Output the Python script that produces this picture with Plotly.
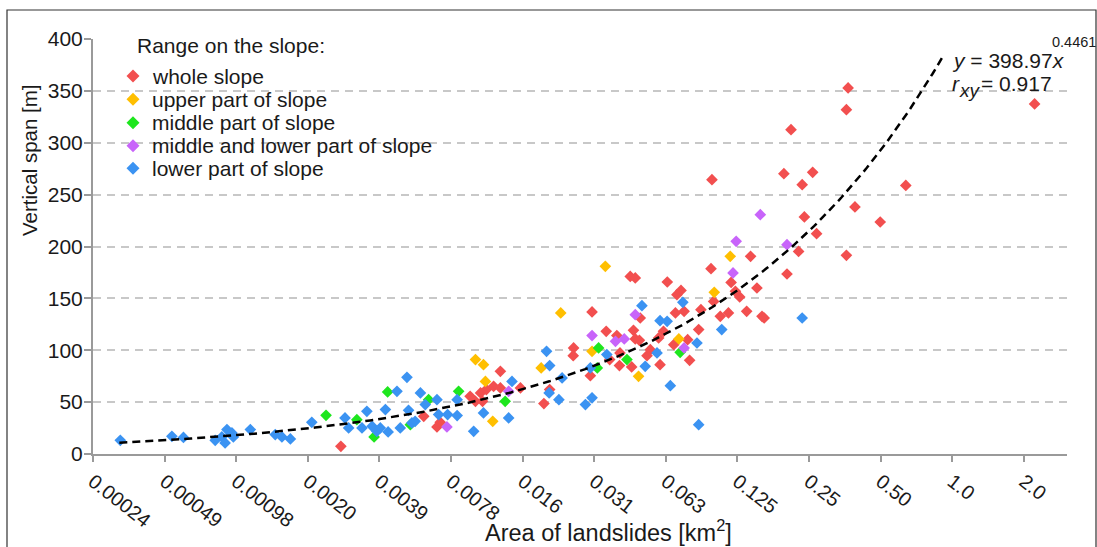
import numpy as np
import plotly.graph_objects as go

# ---------------- data ----------------
whole_area = [0.00269, 0.0060, 0.00682, 0.00704, 0.0094, 0.0099, 0.0104, 0.0110, 0.0106, 0.0118,
              0.0126, 0.0126, 0.0153, 0.0192, 0.0203, 0.0256, 0.0255, 0.0306, 0.0301, 0.0351,
              0.0363, 0.0389, 0.0399, 0.0401, 0.0443, 0.0465, 0.0457, 0.0465, 0.0484, 0.0488,
              0.0449, 0.0521, 0.0538, 0.0583, 0.0591, 0.0611, 0.0634, 0.0696, 0.0724, 0.0686,
              0.0746, 0.0675, 0.0772, 0.0787, 0.0859, 0.0878, 0.0968, 0.0977, 0.0993, 0.1059,
              0.1146, 0.1176, 0.1226, 0.1278, 0.1367, 0.142, 0.151, 0.1586, 0.162, 0.196,
              0.202, 0.21, 0.226, 0.234, 0.239, 0.259, 0.269, 0.359, 0.365, 0.359,
              0.39, 0.498, 0.638, 2.22]
whole_span = [7.4, 36.3, 26.1, 30.5, 55.6, 50.8, 58.9, 62.1, 50.8, 65.2,
              63.7, 79.7, 63.7, 48.6, 62.1, 102.2, 94.8, 136.9, 75.5, 118.2,
              91, 114.1, 85.2, 97.4, 171.2, 169.7, 119.2, 110.9, 109.6, 131.1,
              83.9, 94.8, 100.6, 111.9, 86.1, 118.2, 165.8, 153.6, 157.7, 136,
              137.5, 105.4, 110.2, 90.3, 119.9, 139.1, 178.6, 264.4, 147.1, 132.7,
              136, 165.4, 156.8, 151.4, 137.5, 190.5, 160, 132.7, 131.1, 270.2,
              173.5, 312.6, 195.3, 259.6, 228.5, 271.5, 212.4, 331.9, 352.8, 191.5,
              238.1, 223.6, 258.9, 337.4]

upper_area = [0.0099, 0.0107, 0.0109, 0.0117, 0.0187, 0.0226, 0.0306, 0.0348, 0.048, 0.0709, 0.0999, 0.1166]
upper_span = [91, 86.1, 70, 31.5, 83, 136, 99, 180.9, 74.9, 110.9, 155.8, 190.5]

middle_area = [0.00233, 0.00314, 0.00371, 0.00423, 0.00527, 0.00629, 0.00841, 0.0132, 0.0326, 0.0322, 0.0429, 0.0718]
middle_span = [37.3, 33.1, 16.5, 59.8, 28.3, 52.4, 60.4, 50.8, 102.2, 83, 91, 98]

midlow_area = [0.00751, 0.01365, 0.0306, 0.0384, 0.0418, 0.0465, 0.0746, 0.1198, 0.1235, 0.156, 0.202]
midlow_span = [26.1, 60.4, 114.1, 108.6, 110.9, 134.3, 102.2, 174.5, 205, 230.7, 201.8]

lower_area = [0.000318, 0.000524, 0.000586, 0.000797, 0.00085, 0.000893, 0.000877, 0.000937, 0.00095, 0.00112,
              0.001425, 0.00152, 0.00165, 0.00203, 0.0028, 0.0029, 0.0033, 0.00346, 0.00364, 0.00381,
              0.00394, 0.00414, 0.00425, 0.00463, 0.00478, 0.0051, 0.00518, 0.00535, 0.00552, 0.00581,
              0.00609, 0.00682, 0.00693, 0.00756, 0.00829, 0.00829, 0.00973, 0.0107, 0.01365, 0.0141,
              0.0197, 0.0203, 0.0202, 0.0229, 0.0222, 0.0287, 0.0306, 0.0301, 0.0353, 0.0496,
              0.0512, 0.0574, 0.0591, 0.0633, 0.0653, 0.0737, 0.0845, 0.0859, 0.1074, 0.234]
lower_span = [13.2, 17, 16, 13.2, 16.5, 23.5, 10.7, 20.3, 16.5, 23.5,
              18.7, 16.5, 14.5, 30.5, 34.8, 25.1, 25.1, 41.1, 26.7, 21.9,
              25.1, 42.8, 21.3, 60.4, 25.1, 73.9, 42.1, 30, 31.5, 58.9,
              47.6, 52.4, 38, 38, 37, 52.4, 21.9, 39.6, 34.8, 70,
              99, 85.2, 58.9, 73.3, 52.4, 47.6, 54.1, 83, 95.8, 143,
              84.5, 97.4, 128.5, 127.9, 65.9, 146.2, 107, 28.3, 119.9, 131.1]

series_names = ["whole slope", "upper part of slope", "middle part of slope",
                "middle and lower part of slope", "lower part of slope"]
series_colors = ["#F24F4F", "#FFBF00", "#1EE61E", "#C864FA", "#3B93F2"]

x_tick_vals = [2.0 ** k for k in range(-12, 2)]
x_tick_text = ["0.00024", "0.00049", "0.00098", "0.0020", "0.0039", "0.0078", "0.016",
               "0.031", "0.063", "0.125", "0.25", "0.50", "1.0", "2.0"]
y_tick_vals = [0, 50, 100, 150, 200, 250, 300, 350, 400]

fit_a = 398.97
fit_b = 0.4461
fit_r = 0.917
fit_x_min = 0.000315
fit_x_max = 0.92

# ---------------- figure ----------------
FONT = "Liberation Sans, Arial, sans-serif"
TXT = "#1a1a1a"
W, H = 1097, 547
ML, MR, MT, MB = 93, 30, 39, 93
PW, PH = W - ML - MR, H - MT - MB


def px(xp):
    return (xp - ML) / PW


def py(yp):
    return (H - MB - yp) / PH


def note(text, x, y, size=21, xanchor="left", **kw):
    return dict(text=text, x=px(x), y=py(y), xref="paper", yref="paper", showarrow=False,
                xanchor=xanchor, yanchor="middle", font=dict(size=size, color=TXT), **kw)


fig = go.Figure()
all_series = [(whole_area, whole_span), (upper_area, upper_span), (middle_area, middle_span),
              (midlow_area, midlow_span), (lower_area, lower_span)]
for (xs, ys), name, col in zip(all_series, series_names, series_colors):
    fig.add_trace(go.Scatter(x=xs, y=ys, mode="markers", name=name, showlegend=False,
                             marker=dict(symbol="diamond", size=9, color=col, line=dict(width=0))))

fx = np.geomspace(fit_x_min, fit_x_max, 300)
fig.add_trace(go.Scatter(x=fx, y=fit_a * fx ** fit_b, mode="lines", showlegend=False,
                         line=dict(color="black", width=2.5, dash="8px,5px")))

annotations = [
    # axis titles
    note("Vertical span [m]", 29, 160, size=20.5, xanchor="center", textangle=-90),
    note("Area of landslides [km<sup>2</sup>]", 608, 531, size=23.5, xanchor="center"),
    # equation
    note(f"<i>y</i> = {fit_a:.2f}<i>x</i>", 950, 60),
    note(f"{fit_b:.4f}", 1050, 42, size=14.5),
    note("<i>r</i>", 950, 83),
    note("<i>xy</i>", 957, 90, size=19),
    note(f"= {fit_r:.3f}", 979, 83),
    # legend title
    note("Range on the slope:", 135, 45),
]
leg_y = [76, 99.3, 122.7, 145.7, 168.3]
shapes = []
for name, col, ly in zip(series_names, series_colors, leg_y):
    annotations.append(note(name, 150, ly))
    cx, cy, d = 133, ly, 6.5
    path = (f"M {px(cx - d)},{py(cy)} L {px(cx)},{py(cy - d)} L {px(cx + d)},{py(cy)} "
            f"L {px(cx)},{py(cy + d)} Z")
    shapes.append(dict(type="path", path=path, xref="paper", yref="paper",
                       fillcolor=col, line=dict(width=0)))

# outer frame
shapes.append(dict(type="rect", xref="paper", yref="paper", x0=px(7), x1=px(1096), y0=py(570), y1=py(10),
                   line=dict(color="#333333", width=1.2), fillcolor="rgba(0,0,0,0)"))

fig.update_layout(
    width=W, height=H,
    margin=dict(l=ML, r=MR, t=MT, b=MB, pad=0),
    paper_bgcolor="white", plot_bgcolor="white",
    font=dict(family=FONT, size=21, color=TXT),
    annotations=annotations, shapes=shapes,
    showlegend=False,
    xaxis=dict(type="log", range=[np.log10(2.0 ** -12), np.log10(2.0 ** 1.603)],
               tickvals=x_tick_vals, ticktext=x_tick_text, tickangle=38,
               ticks="outside", ticklen=6, tickwidth=2, tickcolor="#9a9a9a",
               showline=True, linecolor="#9a9a9a", linewidth=2,
               showgrid=False, zeroline=False, tickfont=dict(size=20, color=TXT)),
    yaxis=dict(range=[0, 400], tickvals=y_tick_vals,
               ticks="outside", ticklen=7, tickwidth=2, tickcolor="#9a9a9a",
               ticklabelstandoff=-3,
               showline=True, linecolor="#9a9a9a", linewidth=2,
               showgrid=True, gridcolor="#c8c8c8", gridwidth=2, griddash="8px,6px",
               zeroline=False, tickfont=dict(size=21, color=TXT)),
)

fig.write_html("out.html")
